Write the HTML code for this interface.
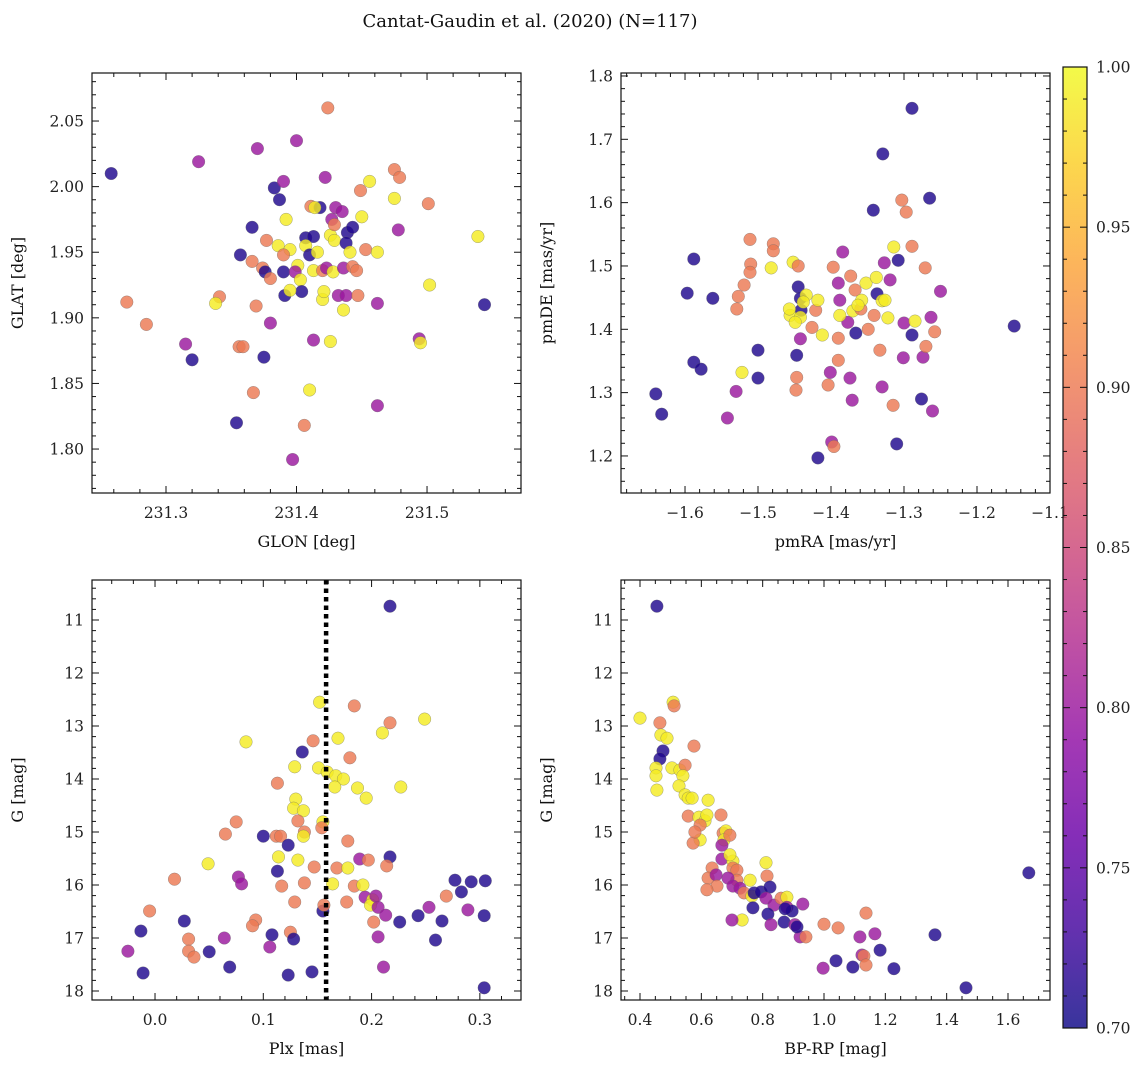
<!DOCTYPE html>
<html><head><meta charset="utf-8"><style>
html,body{margin:0;padding:0;background:#fff;}
svg{display:block;font-family:"DejaVu Serif","Liberation Serif",serif;}
</style></head><body>
<svg id="fig" width="1148" height="1068" viewBox="0 0 1148 1068" xmlns="http://www.w3.org/2000/svg">
<text x="530" y="27" text-anchor="middle" font-size="18" fill="#111">Cantat-Gaudin et al. (2020) (N=117)</text>
</svg>
<script>
// ---- Panel 1: GLON vs GLAT ----
const glon=[231.424,231.258,231.325,231.370,231.400,231.383,231.390,231.387,231.422,231.411,231.418,231.414,231.449,231.456,231.475,231.479,231.475,231.501,231.430,231.435,231.366,231.392,231.427,231.450,231.478,231.377,231.386,231.395,231.407,231.413,231.426,231.429,231.439,231.443,231.438,231.429,231.357,231.366,231.374,231.390,231.401,231.407,231.410,231.416,231.441,231.453,231.376,231.380,231.390,231.399,231.403,231.413,231.420,231.423,231.428,231.436,231.443,231.446,231.462,231.391,231.404,231.420,231.432,231.438,231.447,231.462,231.341,231.338,231.369,231.395,231.421,231.436,231.502,231.270,231.285,231.380,231.413,231.426,231.315,231.320,231.356,231.359,231.375,231.494,231.495,231.539,231.544,231.367,231.410,231.462,231.354,231.406,231.397];
const glat=[2.060,2.010,2.019,2.029,2.035,1.999,2.004,1.990,2.007,1.985,1.984,1.984,1.997,2.004,2.013,2.007,1.991,1.987,1.984,1.981,1.969,1.975,1.975,1.977,1.967,1.959,1.955,1.952,1.961,1.962,1.963,1.959,1.965,1.969,1.957,1.971,1.948,1.943,1.938,1.948,1.940,1.955,1.948,1.950,1.950,1.952,1.935,1.930,1.935,1.935,1.929,1.936,1.936,1.938,1.935,1.938,1.939,1.936,1.950,1.917,1.920,1.914,1.917,1.917,1.917,1.911,1.916,1.911,1.909,1.921,1.920,1.906,1.925,1.912,1.895,1.896,1.883,1.882,1.880,1.868,1.878,1.878,1.870,1.884,1.881,1.962,1.910,1.843,1.845,1.833,1.820,1.818,1.792];
const prob1=[0.9,0.71,0.8,0.8,0.8,0.71,0.8,0.71,0.8,0.9,0.71,0.99,0.9,0.99,0.9,0.9,0.99,0.9,0.8,0.8,0.71,0.99,0.8,0.99,0.8,0.9,0.99,0.99,0.71,0.71,0.99,0.99,0.71,0.71,0.71,0.9,0.71,0.9,0.9,0.9,0.99,0.99,0.71,0.99,0.99,0.9,0.71,0.9,0.71,0.8,0.99,0.99,0.9,0.8,0.99,0.8,0.9,0.9,0.99,0.71,0.71,0.99,0.8,0.8,0.9,0.8,0.9,0.99,0.9,0.99,0.99,0.99,0.99,0.9,0.9,0.8,0.8,0.99,0.8,0.71,0.9,0.9,0.71,0.8,0.99,0.99,0.71,0.9,0.99,0.8,0.71,0.9,0.8];
// ---- Panel 2: pmRA vs pmDE ----
const pmra=[-1.149,-1.640,-1.632,-1.597,-1.588,-1.588,-1.578,-1.562,-1.530,-1.542,-1.511,-1.510,-1.511,-1.529,-1.527,-1.519,-1.500,-1.500,-1.522,-1.482,-1.479,-1.479,-1.452,-1.445,-1.445,-1.442,-1.441,-1.456,-1.457,-1.442,-1.449,-1.434,-1.438,-1.421,-1.418,-1.442,-1.447,-1.447,-1.448,-1.418,-1.412,-1.426,-1.404,-1.399,-1.396,-1.397,-1.384,-1.390,-1.388,-1.377,-1.373,-1.367,-1.370,-1.388,-1.390,-1.390,-1.374,-1.401,-1.371,-1.359,-1.352,-1.358,-1.363,-1.349,-1.338,-1.337,-1.327,-1.330,-1.330,-1.319,-1.341,-1.315,-1.333,-1.326,-1.322,-1.314,-1.308,-1.300,-1.366,-1.289,-1.274,-1.301,-1.285,-1.270,-1.342,-1.329,-1.289,-1.303,-1.297,-1.289,-1.263,-1.271,-1.265,-1.258,-1.250,-1.261,-1.310,-1.276];
const pmde=[1.405,1.298,1.266,1.457,1.511,1.348,1.337,1.449,1.302,1.260,1.542,1.503,1.490,1.432,1.452,1.470,1.367,1.323,1.332,1.497,1.535,1.524,1.506,1.500,1.467,1.449,1.430,1.422,1.432,1.419,1.411,1.454,1.443,1.430,1.446,1.385,1.359,1.324,1.304,1.197,1.391,1.403,1.312,1.222,1.215,1.498,1.522,1.473,1.446,1.411,1.484,1.462,1.429,1.422,1.386,1.351,1.323,1.332,1.288,1.432,1.473,1.446,1.438,1.400,1.482,1.456,1.505,1.445,1.309,1.478,1.422,1.280,1.367,1.446,1.418,1.530,1.509,1.410,1.394,1.391,1.356,1.355,1.413,1.373,1.588,1.677,1.749,1.604,1.585,1.531,1.419,1.497,1.607,1.396,1.460,1.271,1.219,1.290];
const prob2=[0.71,0.71,0.71,0.71,0.71,0.71,0.71,0.71,0.8,0.8,0.9,0.9,0.9,0.9,0.9,0.9,0.71,0.71,0.99,0.99,0.9,0.9,0.99,0.9,0.71,0.71,0.71,0.99,0.99,0.99,0.99,0.99,0.99,0.9,0.99,0.8,0.71,0.9,0.9,0.71,0.99,0.9,0.9,0.8,0.9,0.9,0.8,0.8,0.8,0.8,0.9,0.9,0.99,0.99,0.9,0.9,0.8,0.8,0.8,0.9,0.99,0.99,0.99,0.9,0.99,0.71,0.8,0.99,0.8,0.8,0.9,0.9,0.9,0.99,0.99,0.99,0.71,0.8,0.71,0.71,0.8,0.8,0.99,0.9,0.71,0.71,0.71,0.9,0.9,0.9,0.8,0.9,0.71,0.9,0.8,0.8,0.71,0.71];
// ---- Panel 3: Plx vs G ----
const plx=[0.217,0.152,0.184,0.217,0.249,0.084,0.146,0.136,0.169,0.180,0.210,0.129,0.151,0.159,0.167,0.174,0.187,0.166,0.113,0.227,0.195,0.130,0.128,0.137,0.132,0.138,0.155,0.075,0.065,0.100,0.112,0.116,0.137,0.123,0.154,0.178,0.132,0.114,0.049,0.018,0.077,0.080,0.113,0.147,0.168,0.189,0.197,0.217,0.214,0.178,0.117,0.138,0.164,0.184,0.192,0.194,0.201,0.199,0.204,0.206,0.129,0.155,0.156,0.226,0.253,0.277,0.283,0.292,0.305,0.304,0.289,0.269,0.265,0.243,0.213,0.202,0.177,0.093,0.090,0.064,0.027,-0.013,-0.005,0.031,0.031,0.036,0.050,0.108,0.125,0.128,0.206,0.259,-0.025,0.106,0.069,-0.011,0.211,0.145,0.123,0.304];
const gmag3=[10.74,12.55,12.62,12.94,12.87,13.30,13.28,13.49,13.23,13.60,13.13,13.77,13.79,13.87,13.94,14.00,14.17,14.15,14.08,14.15,14.36,14.38,14.55,14.60,14.79,15.00,14.81,14.81,15.04,15.08,15.08,15.08,15.08,15.25,14.92,15.17,15.53,15.47,15.60,15.89,15.85,15.98,15.74,15.66,15.68,15.51,15.53,15.47,15.64,15.68,16.02,15.96,15.98,16.02,16.00,16.23,16.28,16.38,16.21,16.42,16.32,16.49,16.38,16.70,16.42,15.91,16.13,15.94,15.92,16.58,16.47,16.21,16.68,16.58,16.57,16.70,16.32,16.66,16.77,17.00,16.68,16.87,16.49,17.02,17.25,17.36,17.26,16.94,16.89,17.02,16.98,17.04,17.25,17.17,17.55,17.66,17.55,17.64,17.70,17.94];
const prob3=[0.71,0.99,0.9,0.9,0.99,0.99,0.9,0.71,0.99,0.9,0.99,0.99,0.99,0.99,0.99,0.99,0.99,0.99,0.9,0.99,0.99,0.99,0.99,0.99,0.9,0.9,0.99,0.9,0.9,0.71,0.9,0.9,0.99,0.71,0.9,0.9,0.99,0.99,0.99,0.9,0.8,0.8,0.71,0.9,0.9,0.8,0.9,0.71,0.9,0.99,0.9,0.9,0.99,0.9,0.99,0.8,0.99,0.99,0.8,0.8,0.9,0.71,0.9,0.71,0.8,0.71,0.71,0.71,0.71,0.71,0.8,0.9,0.71,0.71,0.8,0.9,0.9,0.9,0.9,0.8,0.71,0.71,0.9,0.9,0.9,0.9,0.71,0.71,0.9,0.71,0.8,0.71,0.8,0.8,0.71,0.71,0.8,0.71,0.71,0.71];
const plxCut=0.158;
// ---- Panel 4: BP-RP vs G ----
const bprp=[0.455,0.400,0.508,0.511,0.465,0.468,0.488,0.475,0.465,0.452,0.452,0.455,0.504,0.530,0.547,0.576,0.540,0.527,0.547,0.557,0.570,0.557,0.592,0.612,0.618,0.622,0.596,0.596,0.573,0.579,0.664,0.671,0.680,0.674,0.693,0.667,0.667,0.703,0.693,0.703,0.716,0.716,0.687,0.703,0.635,0.622,0.648,0.651,0.618,0.726,0.739,0.759,0.765,0.772,0.811,0.814,0.795,0.824,0.811,0.837,0.860,0.879,0.879,0.768,0.733,0.700,0.817,0.827,0.870,0.896,0.905,0.922,0.941,0.912,0.873,0.931,1.000,1.046,1.137,1.117,1.166,1.124,1.130,1.183,1.137,1.228,1.039,0.997,1.094,1.668,1.362,1.463];
const gmag4=[10.74,12.85,12.55,12.62,12.94,13.17,13.23,13.47,13.62,13.79,13.94,14.21,13.79,13.83,13.74,13.38,13.94,14.13,14.30,14.36,14.36,14.70,14.72,14.79,14.68,14.40,14.87,15.15,15.21,15.00,14.68,15.02,14.98,15.15,15.06,15.25,15.51,15.55,15.43,15.68,15.72,15.91,15.87,16.02,15.68,15.87,15.81,16.02,16.09,16.06,16.15,15.91,16.21,16.15,15.58,15.83,16.13,16.04,16.25,16.38,16.25,16.23,16.42,16.43,16.66,16.66,16.55,16.75,16.70,16.49,16.75,16.98,16.98,16.79,16.45,16.36,16.74,16.81,16.53,16.98,16.92,17.32,17.34,17.23,17.51,17.58,17.43,17.57,17.55,15.77,16.94,17.94];
const prob4=[0.71,0.99,0.99,0.9,0.9,0.99,0.99,0.71,0.71,0.99,0.99,0.99,0.99,0.99,0.9,0.9,0.99,0.99,0.99,0.99,0.99,0.9,0.99,0.99,0.99,0.99,0.9,0.99,0.9,0.9,0.9,0.9,0.99,0.99,0.9,0.8,0.8,0.99,0.99,0.9,0.9,0.9,0.8,0.8,0.9,0.9,0.8,0.9,0.9,0.8,0.9,0.99,0.99,0.71,0.99,0.9,0.71,0.71,0.8,0.8,0.9,0.99,0.8,0.71,0.99,0.8,0.71,0.8,0.71,0.71,0.8,0.8,0.9,0.71,0.71,0.8,0.9,0.9,0.9,0.8,0.8,0.8,0.9,0.71,0.9,0.71,0.71,0.8,0.71,0.71,0.71,0.71];
const cbTicks=[0.70,0.75,0.80,0.85,0.90,0.95,1.00];

const NS="http://www.w3.org/2000/svg";
const svg=document.getElementById('fig');
function mk(tag,attrs,parent){const e=document.createElementNS(NS,tag);for(const k in attrs)e.setAttribute(k,attrs[k]);(parent||svg).appendChild(e);return e;}
const stops=["#0d0887","#41049d","#6a00a8","#8f0da4","#b12a90","#cc4778","#e16462","#f2844b","#fca636","#fcce25","#f0f921"];
function hex(h){return [parseInt(h.slice(1,3),16),parseInt(h.slice(3,5),16),parseInt(h.slice(5,7),16)];}
function plasma(t){t=Math.max(0,Math.min(1,t));const f=t*10,i=Math.min(9,Math.floor(f)),r=f-i;const a=hex(stops[i]),b=hex(stops[i+1]);return "rgb("+a.map((v,k)=>Math.round(v+(b[k]-v)*r)).join(",")+")";}
function pcol(p){return plasma((p-0.7)/0.3);}
function fmt(v,d){const s=Math.abs(v).toFixed(d);return (v< -1e-9?"−":"")+s;}

function panel(id,L,T,R,B,xd,yd,xs,ys,cs,xmaj,xmin,xdec,ymaj,ymin,ydec,xlabel,ylabel,extra){
  const g=mk('g',{});
  
  
  const sx=v=>L+(v-xd[0])/(xd[1]-xd[0])*(R-L);
  const sy=v=>B-(v-yd[0])/(yd[1]-yd[0])*(B-T);
  const clipId=id+'-clip';
  const cp=mk('clipPath',{id:clipId},g);mk('rect',{x:L,y:T,width:R-L,height:B-T},cp);
  const pts=mk('g',{'clip-path':'url(#'+clipId+')'},g);
  
  
  for(let i=0;i<xs.length;i++){
    const c=mk('circle',{cx:sx(xs[i]).toFixed(1),cy:sy(ys[i]).toFixed(1),r:6.3,fill:pcol(cs[i]),'fill-opacity':0.82,stroke:'#666','stroke-opacity':0.6,'stroke-width':0.5},pts);
    
    
  }
  if(extra)extra(g,sx,sy,T,B);
  mk('rect',{x:L,y:T,width:R-L,height:B-T,fill:'none',stroke:'#111','stroke-width':1.2},g);
  const lo=Math.min(xd[0],xd[1]),hi=Math.max(xd[0],xd[1]);
  const ticks=mk('g',{stroke:'#111','stroke-width':1},g);
  for(let k=Math.ceil(lo/xmin-1e-6);k*xmin<=hi+1e-9;k++){const v=k*xmin,x=sx(v);const maj=Math.abs(v/xmaj-Math.round(v/xmaj))<1e-4;const len=maj?7:4;
    mk('line',{x1:x,x2:x,y1:B,y2:B-len},ticks);mk('line',{x1:x,x2:x,y1:T,y2:T+len},ticks);
    if(maj){const t=mk('text',{x:x,y:B+25,'text-anchor':'middle','font-size':15.5,fill:'#222',stroke:'none'},g);t.textContent=fmt(v,xdec);
      }}
  const ylo=Math.min(yd[0],yd[1]),yhi=Math.max(yd[0],yd[1]);
  for(let k=Math.ceil(ylo/ymin-1e-6);k*ymin<=yhi+1e-9;k++){const v=k*ymin,y=sy(v);const maj=Math.abs(v/ymaj-Math.round(v/ymaj))<1e-4;const len=maj?7:4;
    mk('line',{x1:L,x2:L+len,y1:y,y2:y},ticks);mk('line',{x1:R,x2:R-len,y1:y,y2:y},ticks);
    if(maj){const t=mk('text',{x:L-8,y:y+5.5,'text-anchor':'end','font-size':15.5,fill:'#222',stroke:'none'},g);t.textContent=fmt(v,ydec);
      }}
  const xl=mk('text',{x:(L+R)/2,y:B+54,'text-anchor':'middle','font-size':16,fill:'#111'},g);xl.textContent=xlabel;
  
  const yx=L-69,yy=(T+B)/2;
  const yl=mk('text',{x:yx,y:yy,'text-anchor':'middle','font-size':16,fill:'#111',transform:'rotate(-90 '+yx+' '+yy+')'},g);yl.textContent=ylabel;
  
}
panel('glon-glat-panel',92,73,521,493,[231.2433,231.572],[1.7665,2.0866],glon,glat,prob1,0.1,0.02,1,0.05,0.01,2,'GLON [deg]','GLAT [deg]');
panel('pm-panel',621,73,1050,493,[-1.6877,-1.1],[1.1415,1.8047],pmra,pmde,prob2,0.1,0.02,1,0.1,0.02,1,'pmRA [mas/yr]','pmDE [mas/yr]');
panel('plx-g-panel',92,580,521,1000,[-0.0582,0.338],[18.17,10.245],plx,gmag3,prob3,0.1,0.02,1,1,0.2,0,'Plx [mas]','G [mag]',
  (g,sx,sy,T,B)=>{const l=mk('line',{x1:sx(plxCut),x2:sx(plxCut),y1:T,y2:B,stroke:'#000','stroke-width':4.5,'stroke-dasharray':'4.5,4'},g);
   });
panel('cmd-panel',621,580,1050,1000,[0.338,1.737],[18.17,10.245],bprp,gmag4,prob4,0.2,0.05,1,1,0.2,0,'BP-RP [mag]','G [mag]');

// colorbar
(function(){
  const L=1063,R=1087,T=67,B=1028;
  const defs=mk('defs',{});const lg=mk('linearGradient',{id:'cbg',x1:0,y1:1,x2:0,y2:0},defs);
  for(let i=0;i<=20;i++)mk('stop',{offset:(i/20),'stop-color':plasma(i/20)},lg);
  const g=mk('g',{});
  
  
  mk('rect',{x:L,y:T,width:R-L,height:B-T,fill:'url(#cbg)','fill-opacity':0.82},g);
  mk('rect',{x:L,y:T,width:R-L,height:B-T,fill:'none',stroke:'#111','stroke-width':1.2},g);
  const sy=v=>B-(v-0.7)/0.3*(B-T);
  for(let k=70;k<=100;k++){const y=sy(k/100);const maj=k%5===0;const len=maj?7:4;
    mk('line',{x1:R,x2:R-len,y1:y,y2:y,stroke:'#111'},g);mk('line',{x1:L,x2:L+len,y1:y,y2:y,stroke:'#111'},g);}
  for(let i=0;i<cbTicks.length;i++){const t=mk('text',{x:R+9,y:sy(cbTicks[i])+5.5,'font-size':15.5,fill:'#222'},g);t.textContent=cbTicks[i].toFixed(2);
    }
})();
</script>
</body></html>
